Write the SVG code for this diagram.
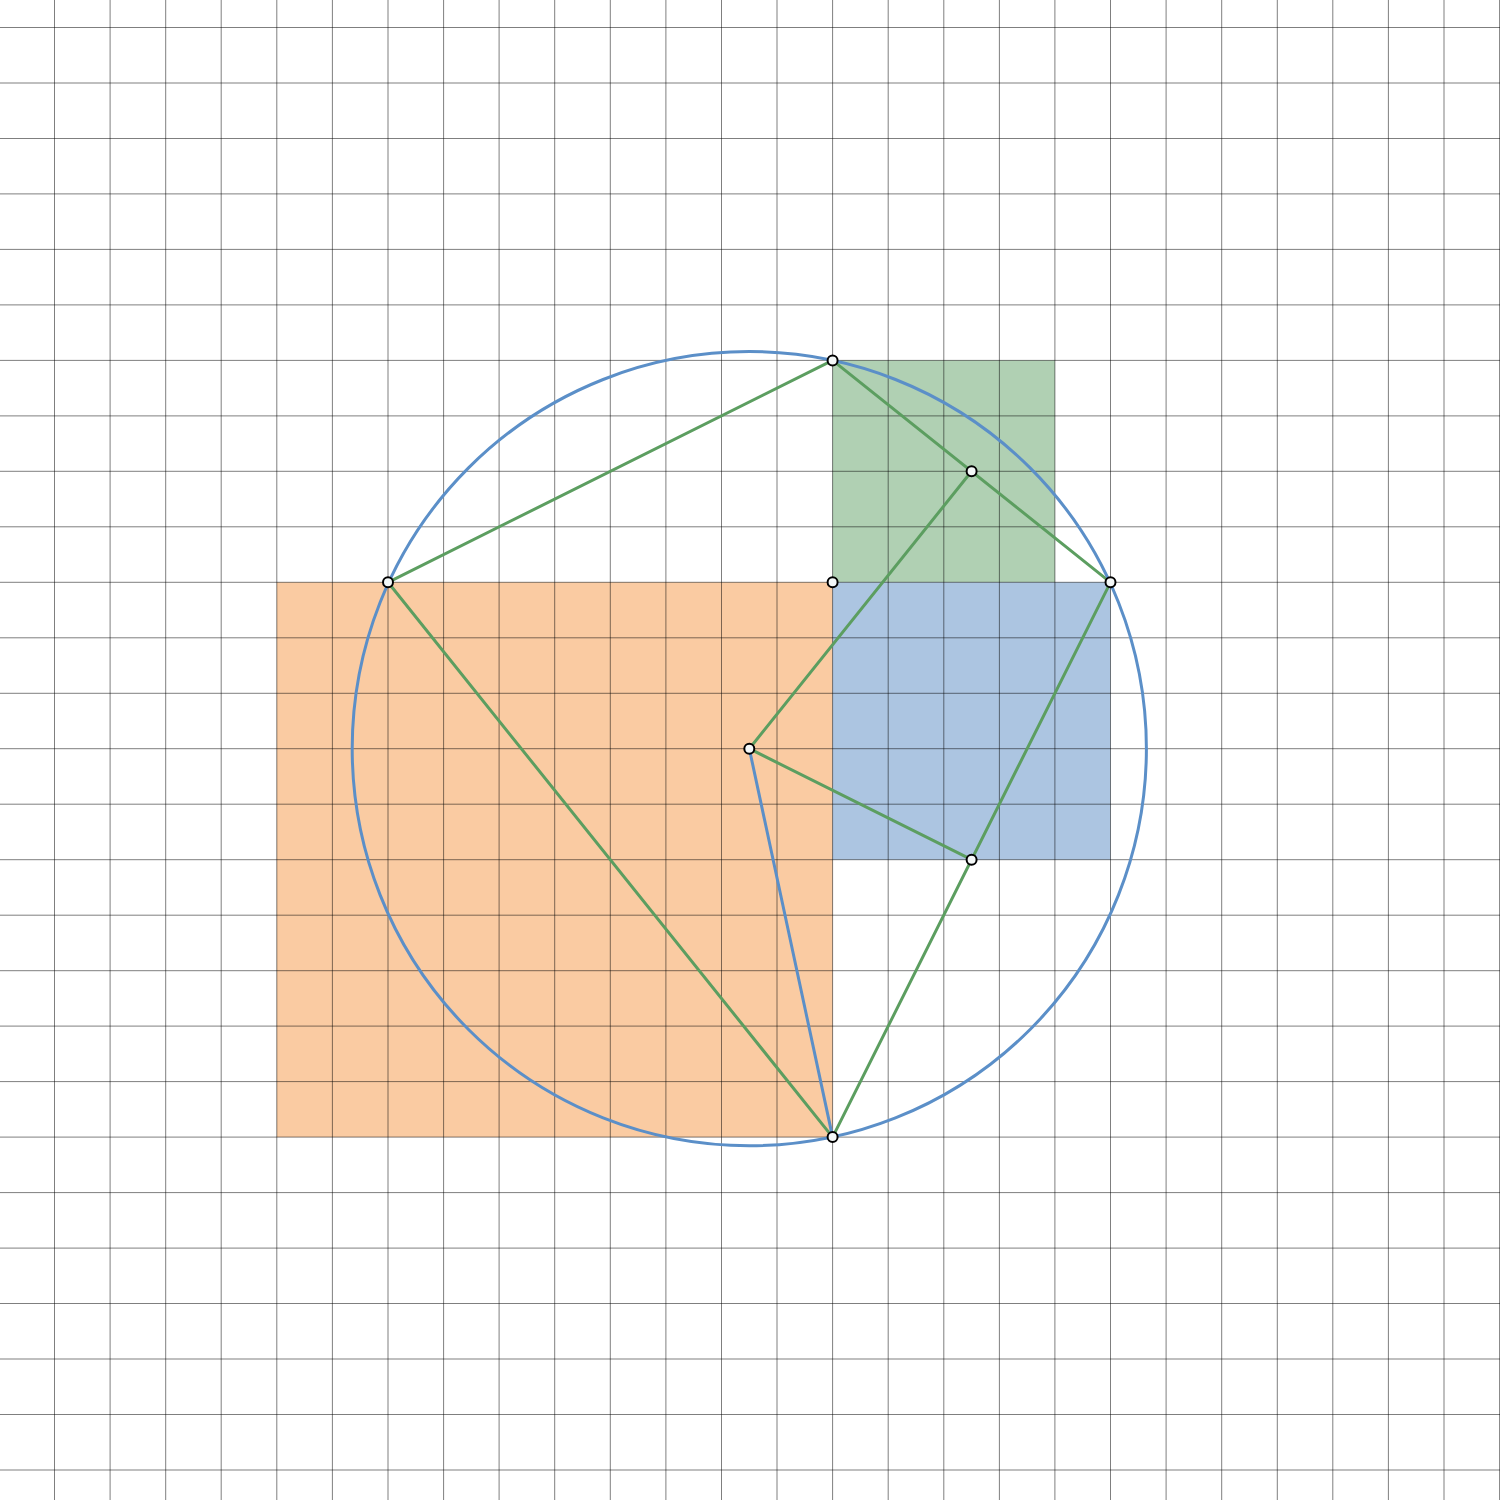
<svg xmlns="http://www.w3.org/2000/svg" width="1500" height="1500" viewBox="0 0 1500 1500">
<style>
.grid line{stroke:#000;stroke-opacity:0.5;stroke-width:1}
.g{stroke:#5c9e60;stroke-width:3;fill:none;stroke-linecap:round}
.b{stroke:#5b8fc8;stroke-width:3;fill:none;stroke-linecap:round}
.pt{fill:#f4f8f8;stroke:#000;stroke-width:2}
</style>
<rect width="1500" height="1500" fill="#fff"/>
<g id="fills">
<rect id="orange" x="276.8" y="582.3" width="555.8" height="554.8" fill="#facba2"/>
<rect id="greenbox" x="832.6" y="360.4" width="222.3" height="221.9" fill="#b0d0b3"/>
<rect id="bluebox" x="832.6" y="582.3" width="277.9" height="277.4" fill="#acc5e1"/>
</g>
<g class="grid" id="grid">
<line x1="54.5" y1="0" x2="54.5" y2="1500"/><line x1="110.1" y1="0" x2="110.1" y2="1500"/><line x1="165.7" y1="0" x2="165.7" y2="1500"/><line x1="221.2" y1="0" x2="221.2" y2="1500"/><line x1="276.8" y1="0" x2="276.8" y2="1500"/><line x1="332.4" y1="0" x2="332.4" y2="1500"/><line x1="388" y1="0" x2="388" y2="1500"/><line x1="443.6" y1="0" x2="443.6" y2="1500"/><line x1="499.1" y1="0" x2="499.1" y2="1500"/><line x1="554.7" y1="0" x2="554.7" y2="1500"/><line x1="610.3" y1="0" x2="610.3" y2="1500"/><line x1="665.9" y1="0" x2="665.9" y2="1500"/><line x1="721.5" y1="0" x2="721.5" y2="1500"/><line x1="777" y1="0" x2="777" y2="1500"/><line x1="832.6" y1="0" x2="832.6" y2="1500"/><line x1="888.2" y1="0" x2="888.2" y2="1500"/><line x1="943.8" y1="0" x2="943.8" y2="1500"/><line x1="999.4" y1="0" x2="999.4" y2="1500"/><line x1="1054.9" y1="0" x2="1054.9" y2="1500"/><line x1="1110.5" y1="0" x2="1110.5" y2="1500"/><line x1="1166.1" y1="0" x2="1166.1" y2="1500"/><line x1="1221.7" y1="0" x2="1221.7" y2="1500"/><line x1="1277.3" y1="0" x2="1277.3" y2="1500"/><line x1="1332.8" y1="0" x2="1332.8" y2="1500"/><line x1="1388.4" y1="0" x2="1388.4" y2="1500"/><line x1="1444" y1="0" x2="1444" y2="1500"/><line x1="1499.6" y1="0" x2="1499.6" y2="1500"/>
<line x1="0" y1="27.5" x2="1500" y2="27.5"/><line x1="0" y1="83" x2="1500" y2="83"/><line x1="0" y1="138.5" x2="1500" y2="138.5"/><line x1="0" y1="193.9" x2="1500" y2="193.9"/><line x1="0" y1="249.4" x2="1500" y2="249.4"/><line x1="0" y1="304.9" x2="1500" y2="304.9"/><line x1="0" y1="360.4" x2="1500" y2="360.4"/><line x1="0" y1="415.9" x2="1500" y2="415.9"/><line x1="0" y1="471.3" x2="1500" y2="471.3"/><line x1="0" y1="526.8" x2="1500" y2="526.8"/><line x1="0" y1="582.3" x2="1500" y2="582.3"/><line x1="0" y1="637.8" x2="1500" y2="637.8"/><line x1="0" y1="693.3" x2="1500" y2="693.3"/><line x1="0" y1="748.7" x2="1500" y2="748.7"/><line x1="0" y1="804.2" x2="1500" y2="804.2"/><line x1="0" y1="859.7" x2="1500" y2="859.7"/><line x1="0" y1="915.2" x2="1500" y2="915.2"/><line x1="0" y1="970.7" x2="1500" y2="970.7"/><line x1="0" y1="1026.1" x2="1500" y2="1026.1"/><line x1="0" y1="1081.6" x2="1500" y2="1081.6"/><line x1="0" y1="1137.1" x2="1500" y2="1137.1"/><line x1="0" y1="1192.6" x2="1500" y2="1192.6"/><line x1="0" y1="1248.1" x2="1500" y2="1248.1"/><line x1="0" y1="1303.5" x2="1500" y2="1303.5"/><line x1="0" y1="1359" x2="1500" y2="1359"/><line x1="0" y1="1414.5" x2="1500" y2="1414.5"/><line x1="0" y1="1470" x2="1500" y2="1470"/>
</g>
<g id="connectors">
<line class="g" x1="832.6" y1="360.4" x2="388" y2="582.3"/>
<line class="g" x1="388" y1="582.3" x2="832.6" y2="1137.1"/>
<line class="g" x1="832.6" y1="360.4" x2="1110.5" y2="582.3"/>
<line class="g" x1="1110.5" y1="582.3" x2="832.6" y2="1137.1"/>
<line class="g" x1="749.3" y1="748.7" x2="971.6" y2="471.3"/>
<line class="g" x1="749.3" y1="748.7" x2="971.6" y2="859.7"/>
<line class="b" x1="749.3" y1="748.7" x2="832.6" y2="1137.1"/>
<circle id="circumcircle" class="b" cx="749.3" cy="748.7" r="397.1"/>
</g>
<g id="points">
<circle id="p1" class="pt" cx="832.6" cy="360.4" r="5"/>
<circle id="p2" class="pt" cx="388" cy="582.3" r="5"/>
<circle id="p3" class="pt" cx="1110.5" cy="582.3" r="5"/>
<circle id="p4" class="pt" cx="832.6" cy="1137.1" r="5"/>
<circle id="p5" class="pt" cx="971.6" cy="471.3" r="5"/>
<circle id="p6" class="pt" cx="832.6" cy="582.3" r="5"/>
<circle id="p7" class="pt" cx="749.3" cy="748.7" r="5"/>
<circle id="p8" class="pt" cx="971.6" cy="859.7" r="5"/>
</g>
</svg>
